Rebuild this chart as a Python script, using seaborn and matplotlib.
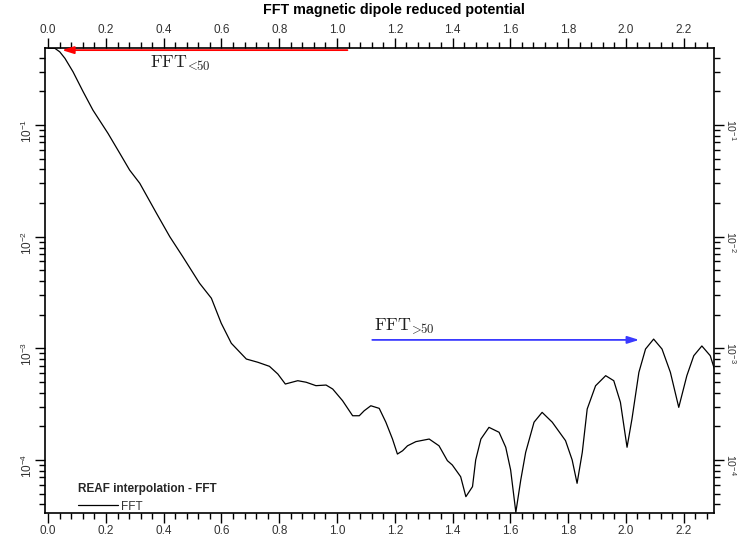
import numpy as np
import pandas as pd
import matplotlib
matplotlib.use("Agg")
import matplotlib.pyplot as plt
import matplotlib.ticker as mticker
import seaborn as sns

# FFT spectrum of the magnetic dipole reduced potential (REAF interpolation)
freq = [0.000, 0.023, 0.040, 0.058, 0.086, 0.121, 0.155, 0.207, 0.248, 0.282,
        0.317, 0.375, 0.421, 0.466, 0.524, 0.565, 0.599, 0.634, 0.686, 0.726,
        0.766, 0.795, 0.821, 0.864, 0.893, 0.927, 0.962, 0.985, 1.019, 1.054,
        1.077, 1.094, 1.117, 1.146, 1.169, 1.192, 1.209, 1.227, 1.244, 1.273,
        1.319, 1.353, 1.382, 1.399, 1.428, 1.446, 1.469, 1.480, 1.498, 1.526,
        1.561, 1.584, 1.601, 1.619, 1.636, 1.653, 1.682, 1.710, 1.745, 1.791,
        1.814, 1.831, 1.849, 1.866, 1.895, 1.930, 1.958, 1.981, 2.004, 2.021,
        2.045, 2.068, 2.096, 2.125, 2.154, 2.183, 2.211, 2.235, 2.263, 2.292,
        2.310]
amp = [0.487, 0.487, 0.453, 0.396, 0.300, 0.199, 0.136, 0.0843, 0.0558, 0.0395,
       0.0301, 0.0162, 0.0100, 0.00662, 0.00383, 0.00281, 0.00168, 0.00111, 8.02e-4, 7.50e-4,
       6.90e-4, 5.89e-4, 4.79e-4, 5.13e-4, 4.97e-4, 4.63e-4, 4.69e-4, 4.32e-4, 3.40e-4, 2.49e-4,
       2.49e-4, 2.76e-4, 3.06e-4, 2.90e-4, 2.18e-4, 1.54e-4, 1.13e-4, 1.21e-4, 1.34e-4, 1.46e-4,
       1.54e-4, 1.34e-4, 9.86e-5, 9.02e-5, 7.08e-5, 4.69e-5, 5.77e-5, 1.00e-4, 1.54e-4, 1.96e-4,
       1.77e-4, 1.30e-4, 8.13e-5, 3.40e-5, 6.62e-5, 1.17e-4, 2.18e-4, 2.67e-4, 2.18e-4, 1.49e-4,
       1.00e-4, 6.18e-5, 1.17e-4, 2.86e-4, 4.62e-4, 5.69e-4, 5.13e-4, 3.29e-4, 1.30e-4, 2.33e-4,
       6.10e-4, 9.86e-4, 1.21e-3, 9.86e-4, 6.10e-4, 2.96e-4, 5.69e-4, 8.59e-4, 1.05e-3, 8.59e-4,
       6.10e-4]

x_ticks = [0.0, 0.2, 0.4, 0.6, 0.8, 1.0, 1.2, 1.4, 1.6, 1.8, 2.0, 2.2]
y_ticks = [1e-4, 1e-3, 1e-2, 1e-1]

# arrows marking the low and high parts of the spectrum
low_arrow = {"start": (1.036, 0.469), "end": (0.048, 0.469),
             "label": r"$\mathrm{FFT}_{\!<\!\!50}$",
             "label_at": (0.352, 0.324), "color": "#ff0000"}
high_arrow = {"start": (1.122, 1.19e-3), "end": (2.046, 1.19e-3),
              "label": r"$\mathrm{FFT}_{\!>\!\!50}$",
              "label_at": (1.128, 1.43e-3), "color": "#3a3aff"}

df = pd.DataFrame({"freq": freq, "amp": amp})

sns.set_theme(style="ticks")
plt.rcParams["font.family"] = ["Liberation Sans", "DejaVu Sans"]
plt.rcParams["mathtext.fontset"] = "cm"

fig = plt.figure(figsize=(7.37, 5.52), dpi=100)
ax = fig.add_axes([45 / 737, 1 - 513 / 552, 669 / 737, 465 / 552])

sns.lineplot(data=df, x="freq", y="amp", ax=ax, color="black", lw=0.9,
             estimator=None, sort=False, label="FFT")

ax.set_yscale("log")
ax.set_xlim(-0.011, 2.305)
ax.set_ylim(3.35e-5, 0.49)

ax.xaxis.set_major_locator(mticker.FixedLocator(x_ticks))
ax.xaxis.set_major_formatter(mticker.FormatStrFormatter("%.1f"))
ax.xaxis.set_minor_locator(mticker.MultipleLocator(0.04))
ax.yaxis.set_major_locator(mticker.FixedLocator(y_ticks))
ax.yaxis.set_major_formatter(mticker.LogFormatterSciNotation())
ax.yaxis.set_minor_locator(mticker.LogLocator(base=10, subs=np.arange(2, 10)))
ax.yaxis.set_minor_formatter(mticker.NullFormatter())

ax.tick_params(which="both", direction="out", top=True, right=True,
               labeltop=True, labelright=True, color="black", width=1.0,
               labelsize=8.5, labelcolor="#333333")
ax.tick_params(which="major", length=7, pad=2)
ax.tick_params(axis="y", which="major", pad=0.5)
ax.tick_params(which="minor", length=4.5)
for sp in ax.spines.values():
    sp.set_visible(True)
    sp.set_linewidth(1.2)
    sp.set_color("black")

for t in ax.yaxis.get_major_ticks():
    t.label1.set_rotation(90)
    t.label2.set_rotation(-90)
    t.label2.set_fontsize(7.6)

ax.set_xlabel("")
ax.set_ylabel("")
fig.text(394 / 737, 1 - 10 / 552, "FFT magnetic dipole reduced potential", ha="center",
         va="center", fontsize=10.3, fontweight="bold", color="black")

for arr in (low_arrow, high_arrow):
    ax.annotate("", xy=arr["end"], xytext=arr["start"],
                arrowprops=dict(arrowstyle="-|>,head_length=0.7,head_width=0.22",
                                color=arr["color"], lw=1.3, mutation_scale=10,
                                shrinkA=0, shrinkB=0))
    ax.text(*arr["label_at"], arr["label"], fontsize=13, color="#222222",
            ha="left", va="baseline")

leg = ax.legend(loc="lower left", bbox_to_anchor=(0.033, -0.022), frameon=False,
                title="REAF interpolation - FFT", fontsize=8.5, handlelength=3.4,
                handletextpad=0.3, alignment="left",
                title_fontproperties={"weight": "bold", "size": 8.5})
for txt in leg.get_texts():
    txt.set_color("#333333")

fig.savefig("out.png", dpi=100, facecolor="white")
